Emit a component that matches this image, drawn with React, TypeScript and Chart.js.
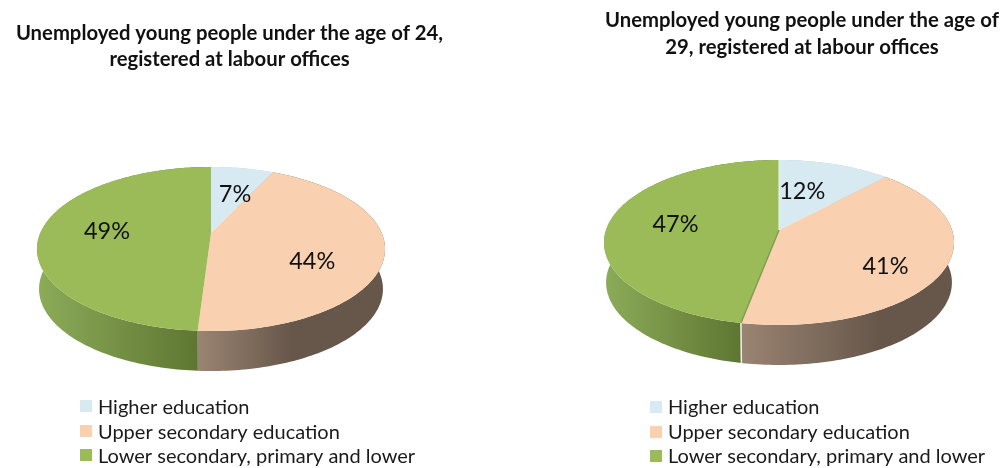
import React, { useEffect, useRef } from "react";
import { Chart, registerables } from "chart.js";

Chart.register(...registerables);

const categories = ["Higher education", "Upper secondary education", "Lower secondary, primary and lower"];
const under24Values = [7, 44, 49];
const under29Values = [12, 41, 47];
const under24Title = ["Unemployed young people under the age of 24,", "registered at labour offices"];
const under29Title = ["Unemployed young people under the age of", "29, registered at labour offices"];

const topColors = ["#D8EAF1", "#FAD1B0", "#9BBB59"];
const wallColors = [
  ["#B4C8D0", "#B4C8D0"],
  ["#9A8472", "#67574A"],
  ["#8CAC59", "#5E7632"],
];

const FONT = "Lato, 'Open Sans', sans-serif";
const perspectivePlugin = {
  id: "perspectivePie",
  beforeDatasetsDraw(chart: any, _args: any, o: any) {
    const { ctx } = chart;
    const arcs = chart.getDatasetMeta(0).data;
    const project = (ang: number, r = 1) => {
      const c = Math.cos(ang) * r;
      const s = Math.sin(ang) * r;
      const d = 1 + o.w * s;
      return [o.cx + (o.a * c) / d, o.cy + (o.b * s) / d];
    };
    const rim = (start: number, end: number) => {
      const pts: number[][] = [];
      const n = Math.max(2, Math.ceil((end - start) / 0.02));
      for (let i = 0; i <= n; i++) pts.push(project(start + ((end - start) * i) / n));
      return pts;
    };
    const lower = (p: number[]) => [o.cx + (p[0] - o.cx) * o.shrink, p[1] + o.depth];
    const left = o.cx - o.rx;
    const right = o.cx + o.rx;
    // side walls: one swept quad per rim step, all in one path
    arcs.forEach((arc: any, i: number) => {
      const pts = rim(arc.startAngle, arc.endAngle);
      ctx.beginPath();
      for (let k = 0; k < pts.length - 1; k++) {
        const [p, q] = [pts[k], pts[k + 1]];
        const [pl, ql] = [lower(p), lower(q)];
        ctx.moveTo(p[0], p[1]);
        ctx.lineTo(q[0], q[1]);
        ctx.lineTo(ql[0], ql[1]);
        ctx.lineTo(pl[0], pl[1]);
        ctx.closePath();
      }
      const seam = project(arcs[1].endAngle)[0];
      const g = i === 2 ? ctx.createLinearGradient(left, 0, seam, 0) : ctx.createLinearGradient(seam, 0, right, 0);
      g.addColorStop(0, wallColors[i][0]);
      if (i !== 2) g.addColorStop(o.wallMid, wallColors[i][1]);
      g.addColorStop(1, wallColors[i][1]);
      ctx.fillStyle = g;
      ctx.fill();
    });
    // top faces
    arcs.forEach((arc: any, i: number) => {
      const pts = rim(arc.startAngle, arc.endAngle);
      ctx.beginPath();
      ctx.moveTo(o.cx, o.cy);
      pts.forEach((p) => ctx.lineTo(p[0], p[1]));
      ctx.closePath();
      ctx.fillStyle = topColors[i];
      ctx.fill();
    });
    if (o.seam) {
      const p = project(arcs[1].endAngle);
      const pl = lower(p);
      ctx.strokeStyle = "#7F9F4C";
      ctx.lineWidth = 1.5;
      ctx.beginPath();
      ctx.moveTo(o.cx, o.cy);
      ctx.lineTo(p[0], p[1]);
      ctx.stroke();
      ctx.strokeStyle = "#F2EFE8";
      ctx.beginPath();
      ctx.moveTo(p[0], p[1]);
      ctx.lineTo(pl[0], pl[1]);
      ctx.stroke();
      ctx.strokeStyle = "#EEF5E2";
      ctx.lineWidth = 1;
      ctx.beginPath();
      ctx.moveTo(o.cx, o.cy);
      const t = project(-Math.PI / 2);
      ctx.lineTo(t[0], t[1]);
      ctx.stroke();
    }
    // percentage labels
    const data = chart.data.datasets[0].data;
    ctx.font = `23.5px ${FONT}`;
    ctx.fillStyle = "#111";
    ctx.textAlign = "center";
    ctx.textBaseline = "middle";
    arcs.forEach((arc: any, i: number) => {
      const p = project((arc.startAngle + arc.endAngle) / 2, 0.6);
      ctx.fillText(`${data[i]}%`, p[0] + o.nudges[i][0], p[1] + o.nudges[i][1]);
    });
    // legend
    ctx.font = `20px ${FONT}`;
    ctx.textAlign = "left";
    chart.data.labels.forEach((label: string, i: number) => {
      ctx.fillStyle = topColors[i];
      ctx.fillRect(o.legendX, o.legendY[i] - 6, 12, 12);
      ctx.fillStyle = "#1a1a1a";
      ctx.fillText(label, o.legendX + 18, o.legendY[i] + o.legendText);
    });
    return false;
  },
};

function PiePanel({ values, title, width, left, opts, lineHeight, top }: any) {
  const ref = useRef<HTMLCanvasElement>(null);
  useEffect(() => {
    const chart = new Chart(ref.current as HTMLCanvasElement, {
      type: "pie",
      data: { labels: categories, datasets: [{ data: values, backgroundColor: topColors, borderWidth: 0 }] },
      plugins: [perspectivePlugin],
      options: {
        responsive: false,
        animation: false,
        plugins: {
          legend: { display: false },
          tooltip: { enabled: false },
          title: {
            display: true,
            text: title,
            color: "#111",
            padding: { top, bottom: 0 },
            font: { family: FONT, size: 20.3, weight: "bold", lineHeight: `${lineHeight}px` },
          },
          perspectivePie: opts,
        } as any,
      },
    } as any);
    return () => chart.destroy();
  }, []);
  return <canvas ref={ref} width={width} height={468} style={{ position: "absolute", left, top: 0, width, height: 468 }} />;
}

export default function App() {
  return (
    <div style={{ position: "absolute", left: 0, top: 0, width: 1001, height: 468, overflow: "hidden", background: "#fff" }}>
      <PiePanel
        values={under24Values}
        title={under24Title}
        width={459}
        left={0}
        top={20}
        lineHeight={26}
        opts={{
          cx: 211, cy: 233, a: 170.7, b: 78.9, w: -0.195, rx: 174, depth: 40, shrink: 0.988, seam: false, wallMid: 0.5,
          nudges: [[4, 2.5], [-1, 16], [-2, -0.5]], legendX: 80, legendY: [406, 431, 455], legendText: 2,
        }}
      />
      <PiePanel
        values={under29Values}
        title={under29Title}
        width={398}
        left={603}
        top={6.5}
        lineHeight={27}
        opts={{
          cx: 176, cy: 230, a: 173, b: 80.6, w: -0.1515, rx: 175, depth: 40, shrink: 0.988, seam: true, wallMid: 0.65,
          nudges: [[-12, 2.5], [10, 14], [-1, -1.4]], legendX: 47, legendY: [407, 432, 456], legendText: 1,
        }}
      />
    </div>
  );
}
